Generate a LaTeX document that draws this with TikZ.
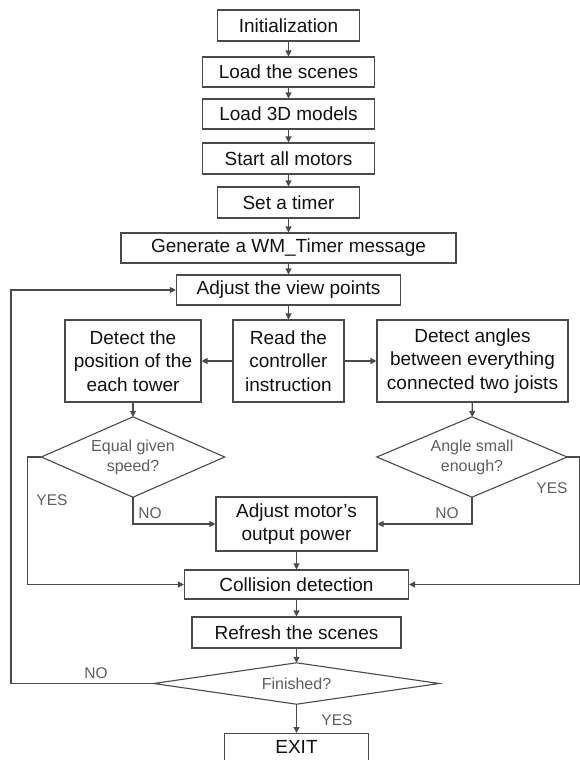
\documentclass[tikz,border=0pt]{standalone}
\usepackage{fontspec}
\setmainfont{Liberation Sans}
\usetikzlibrary{arrows.meta}
\definecolor{linec}{HTML}{4A4A4A}
\definecolor{txtc}{HTML}{111111}
\definecolor{grayt}{HTML}{5E5E5E}
\tikzset{
  box/.style={draw=linec, line width=1.1pt, rectangle, inner sep=0pt, align=center,
    text=txtc, font=\fontsize{19}{23.5}\selectfont},
  dia/.style={rectangle, inner sep=0pt, align=center,
    text=grayt, font=\fontsize{16}{20}\selectfont},
  diaedge/.style={draw=linec, line width=1.1pt, line join=miter},
  arr/.style={draw=linec, line width=1.1pt, -{Triangle[length=6pt,width=6pt]}},
  lab/.style={text=grayt, font=\fontsize{15.5}{18}\selectfont, inner sep=0pt}
}
\begin{document}
\begin{tikzpicture}[x=1pt,y=-1pt]
\useasboundingbox (0,0) rectangle (580,760);
\clip (0,0) rectangle (580,760);
% main chain
\node[box, minimum width=142, minimum height=31] (init) at (288.5,25.5) {Initialization};
\node[box, minimum width=172, minimum height=30] (scenes) at (288.5,72) {Load the scenes};
\node[box, minimum width=172, minimum height=30] (models) at (288.5,114) {Load 3D models};
\node[box, minimum width=172, minimum height=31] (motors) at (288.5,158.5) {Start all motors};
\node[box, minimum width=142, minimum height=31] (timer) at (288.5,202.5) {Set a timer};
\node[box, minimum width=335, minimum height=30] (gen) at (288.5,248) {Generate a WM\_Timer message};
\node[box, minimum width=224, minimum height=30] (adjv) at (288.5,290) {Adjust the view points};
% three boxes
\node[box, minimum width=136, minimum height=82] (detpos) at (133,361) {Detect the\\position of the\\each tower};
\node[box, minimum width=111, minimum height=82] (read) at (288.5,361) {Read the\\controller\\instruction};
\node[box, minimum width=191, minimum height=82] (detang) at (472.5,361) {Detect angles\\between everything\\connected two joists};
% decisions
\node[dia, minimum width=183, minimum height=80] (d1) at (133,457) {Equal given\\speed?};
\draw[diaedge] (d1.north) -- (d1.east) -- (d1.south) -- (d1.west) -- cycle;
\node[dia, minimum width=190, minimum height=80] (d2) at (472,457) {Angle small\\enough?};
\draw[diaedge] (d2.north) -- (d2.east) -- (d2.south) -- (d2.west) -- cycle;
% lower chain
\node[box, minimum width=161, minimum height=54] (adjm) at (296.5,524) {Adjust motor's\\output power};
\node[box, minimum width=224, minimum height=29] (coll) at (296.5,584.5) {Collision detection};
\node[box, minimum width=209, minimum height=31] (refresh) at (296.5,632.5) {Refresh the scenes};
\node[dia, minimum width=285, minimum height=41] (fin) at (296.5,683.5) {Finished?};
\draw[diaedge] (fin.north) -- (fin.east) -- (fin.south) -- (fin.west) -- cycle;
\node[box, minimum width=144, minimum height=34, anchor=north] (exit) at (296.5,733) {};
\node[text=txtc, font=\fontsize{19}{23.5}\selectfont, inner sep=0pt] (exitt) at (296.5,747) {EXIT};
% connectors
\draw[arr] (init) -- (scenes);
\draw[arr] (scenes) -- (models);
\draw[arr] (models) -- (motors);
\draw[arr] (motors) -- (timer);
\draw[arr] (timer) -- (gen);
\draw[arr] (gen) -- (adjv);
\draw[arr] (adjv) -- (read);
\draw[arr] (read) -- (detpos);
\draw[arr] (read) -- (detang);
\draw[arr] (detpos) -- (d1);
\draw[arr] (detang) -- (d2);
\draw[arr] (d1.south) |- (adjm.west);
\draw[arr] (d2.south) |- (adjm.east);
\draw[arr] (d1.west) -- ++(-14,0) |- (coll.west);
\draw[arr] (d2.east) -- ++(12,0) |- (coll.east);
\draw[arr] (adjm) -- (coll);
\draw[arr] (coll) -- (refresh);
\draw[arr] (refresh) -- (fin);
\draw[arr] (fin) -- (exit);
\draw[arr] (fin.west) -- (11,683.5) |- (adjv.west);
% labels
\node[lab] (l1) at (52,500) {YES};
\node[lab] (l2) at (150,513) {NO};
\node[lab] (l3) at (447,513) {NO};
\node[lab] (l4) at (552,488) {YES};
\node[lab] (l5) at (96,673) {NO};
\node[lab] (l6) at (337,720) {YES};
\end{tikzpicture}
\end{document}
